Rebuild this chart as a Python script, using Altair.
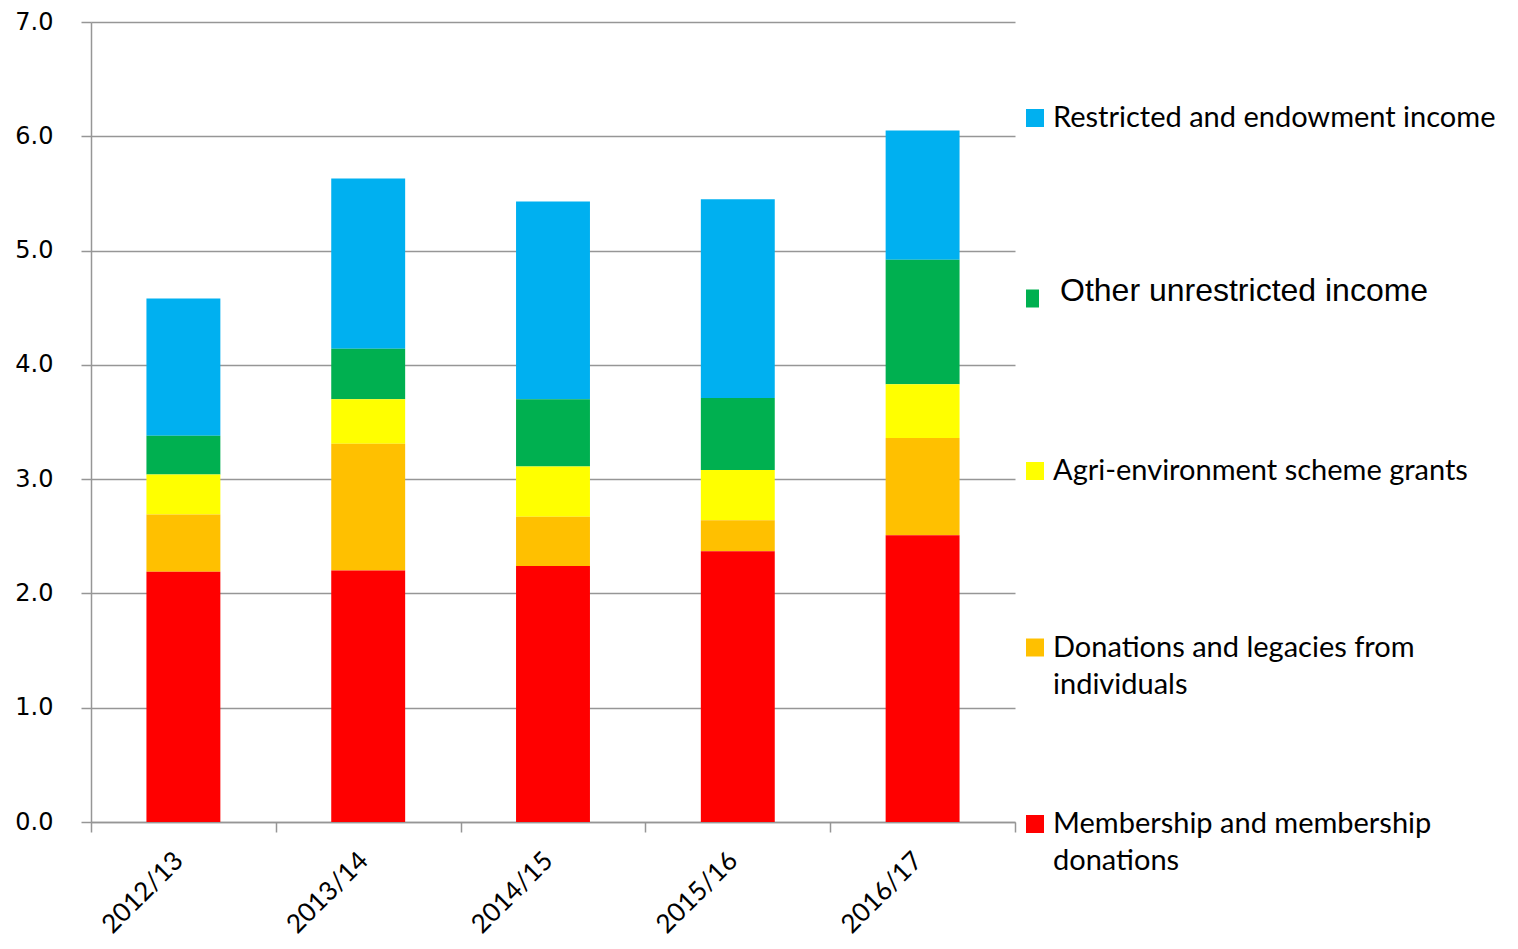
import altair as alt
import pandas as pd

years = ["2012/13", "2013/14", "2014/15", "2015/16", "2016/17"]
series = [
    "Restricted and endowment income",
    "Other unrestricted income",
    "Agri-environment scheme grants",
    "Donations and legacies from individuals",
    "Membership and membership donations",
]
legend_line1 = [
    "Restricted and endowment income",
    "Other unrestricted income",
    "Agri-environment scheme grants",
    "Donations and legacies from",
    "Membership and membership",
]
legend_line2 = ["", "", "", "individuals", "donations"]
colors = ["#00B0F0", "#00B050", "#FFFF00", "#FFC000", "#FF0000"]

membership = [2.19, 2.20, 2.24, 2.37, 2.51]
donations = [0.50, 1.11, 0.43, 0.27, 0.85]
agri = [0.35, 0.39, 0.44, 0.44, 0.47]
other = [0.34, 0.44, 0.59, 0.63, 1.09]
restricted = [1.20, 1.49, 1.73, 1.74, 1.13]

values_by_series = {
    series[0]: restricted,
    series[1]: other,
    series[2]: agri,
    series[3]: donations,
    series[4]: membership,
}
stack_rank = {s: 4 - i for i, s in enumerate(series)}  # membership at the bottom

rows = []
for s, vals in values_by_series.items():
    for y, v in zip(years, vals):
        rows.append({"year": y, "series": s, "value": v, "rank": stack_rank[s]})
df = pd.DataFrame(rows)

leg = pd.DataFrame({"series": series, "line1": legend_line1, "line2": legend_line2})

color_scale = alt.Scale(domain=series, range=colors)
GRAY = "#969696"

bars = (
    alt.Chart(df)
    .mark_bar(stroke=None, width={"band": 0.4})
    .encode(
        x=alt.X(
            "year:N",
            sort=years,
            title=None,
            scale=alt.Scale(paddingInner=0, paddingOuter=0),
            axis=alt.Axis(
                labelAngle=-45,
                labelAlign="right",
                labelBaseline="top",
                labelFont="Lato",
                labelFontSize=26,
                labelColor="black",
                labelPadding=15,
                labelOffset=-14,
                tickBand="extent",
                tickSize=10,
                tickColor=GRAY,
                tickWidth=1.5,
                domainColor=GRAY,
                domainWidth=1.5,
                grid=False,
            ),
        ),
        y=alt.Y(
            "value:Q",
            stack="zero",
            title=None,
            scale=alt.Scale(domain=[0, 7], nice=False),
            axis=alt.Axis(
                values=[0, 1, 2, 3, 4, 5, 6, 7],
                format=".1f",
                labelFont="DejaVu Sans",
                labelFontSize=24,
                labelColor="black",
                labelPadding=28,
                tickSize=10,
                tickColor=GRAY,
                tickWidth=1.5,
                domainColor=GRAY,
                domainWidth=1.5,
                gridColor=GRAY,
                gridWidth=1.5,
            ),
        ),
        color=alt.Color("series:N", scale=color_scale, legend=None),
        order=alt.Order("rank:Q", sort="ascending"),
    )
)

leg_y = alt.Y(
    "series:N",
    sort=series,
    axis=None,
    scale=alt.Scale(type="point", domain=series, range=[96, 802], padding=0),
)

leg_base = alt.Chart(leg)
not_other = alt.datum.series != "Other unrestricted income"
is_other = alt.datum.series == "Other unrestricted income"

leg_sym = leg_base.transform_filter(not_other).mark_square(size=324, opacity=1).encode(
    x=alt.value(944),
    y=leg_y,
    color=alt.Color("series:N", scale=color_scale, legend=None),
)
leg_sym_other = leg_base.transform_filter(is_other).mark_point(
    shape="M-0.72,-1L0.72,-1L0.72,1L-0.72,1Z", size=324, filled=True, opacity=1, yOffset=4
).encode(
    x=alt.value(941.5),
    y=leg_y,
    color=alt.Color("series:N", scale=color_scale, legend=None),
)
leg_t1 = leg_base.transform_filter(not_other).mark_text(
    align="left", baseline="middle", font="Lato", fontSize=29, color="black"
).encode(x=alt.value(962), y=leg_y, text="line1:N")
leg_t2 = leg_base.transform_filter(not_other).mark_text(
    align="left", baseline="middle", font="Lato", fontSize=29, color="black", dy=37
).encode(x=alt.value(962), y=leg_y, text="line2:N")
leg_t_other = leg_base.transform_filter(is_other).mark_text(
    align="left", baseline="middle", font="Liberation Sans", fontSize=32, color="black", dy=-4
).encode(x=alt.value(969), y=leg_y, text="line1:N")

chart = (
    alt.layer(bars, leg_sym, leg_sym_other, leg_t1, leg_t2, leg_t_other)
    .resolve_scale(y="independent")
    .properties(
        width=924,
        height=800,
        padding={"left": 83, "top": 14, "right": 480, "bottom": 119},
        autosize=alt.AutoSizeParams(type="none"),
    )
    .configure_view(stroke=None)
)

chart.save("out.html", embed_options={"renderer": "svg", "actions": False})
